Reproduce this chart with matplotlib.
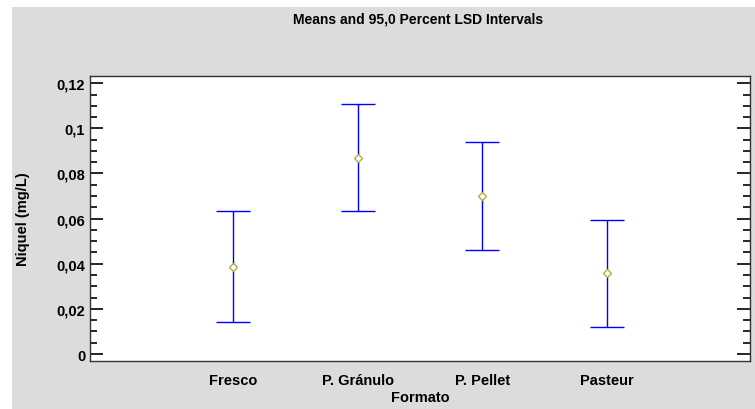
import numpy as np
import matplotlib
matplotlib.use("Agg")
import matplotlib.pyplot as plt
from matplotlib.ticker import MultipleLocator, FuncFormatter

# Means and LSD interval limits per format
formatos = ["Fresco", "P. Gránulo", "P. Pellet", "Pasteur"]
medias = [0.0387, 0.0869, 0.0699, 0.0358]
lim_inf = [0.0142, 0.0633, 0.0463, 0.0121]
lim_sup = [0.0634, 0.1106, 0.0940, 0.0593]

plt.rcParams["font.family"] = ["Liberation Sans", "DejaVu Sans"]
plt.rcParams["font.weight"] = "bold"

fig = plt.figure(figsize=(7.55, 4.10), dpi=100, facecolor="white")
# grey panel behind the plot
fig.patches.append(plt.Rectangle((12 / 755, 0), 1, 1 - 8 / 410,
                                 transform=fig.transFigure,
                                 facecolor="#dcdcdc", edgecolor="none", zorder=-10))

ax = fig.add_axes([90 / 755, 1 - 362 / 410, 660 / 755, 285 / 410])
ax.set_facecolor("white")

x = np.arange(1, len(formatos) + 1)
medias = np.array(medias)
err = [medias - np.array(lim_inf), np.array(lim_sup) - medias]

ax.errorbar(x, medias, yerr=err, fmt="none", ecolor="#0000ff",
            elinewidth=1.0, capsize=12, capthick=1.0)
ax.plot(x, medias, linestyle="none", marker="D", markersize=4,
        markerfacecolor="white", markeredgecolor="#b0b040", markeredgewidth=1.0)

ax.set_xlim(1 - 1.15, 4 + 1.15)
ax.set_ylim(-0.0031, 0.1232)
ax.set_xticks(x)
ax.set_xticklabels(formatos, fontsize=10.5, fontweight="bold")
ax.tick_params(axis="x", length=0, pad=9)


def coma(v, pos):
    if abs(v) < 1e-9:
        return "0"
    return f"{v:.2f}".rstrip("0").replace(".", ",")


ax.yaxis.set_major_locator(MultipleLocator(0.02))
ax.yaxis.set_minor_locator(MultipleLocator(0.005))
ax.yaxis.set_major_formatter(FuncFormatter(coma))
ax.tick_params(axis="y", which="both", direction="in", left=True, right=True,
               labelsize=10.5, colors="black")
ax.tick_params(axis="y", which="major", length=9.5, width=1.2)
ax.tick_params(axis="y", which="minor", length=5, width=1.2)

for s in ax.spines.values():
    s.set_color("#333333")
    s.set_linewidth(1.0)

ax.set_xlabel("Formato", fontsize=10.5, fontweight="bold", labelpad=2)
ax.set_ylabel("Niquel (mg/L)", fontsize=10.5, fontweight="bold", labelpad=19)

fig.text(418 / 755, 1 - 20 / 410, "Means and 95,0 Percent LSD Intervals",
         ha="center", va="center", fontsize=10, fontweight="bold")

fig.savefig("out.png", dpi=100)
